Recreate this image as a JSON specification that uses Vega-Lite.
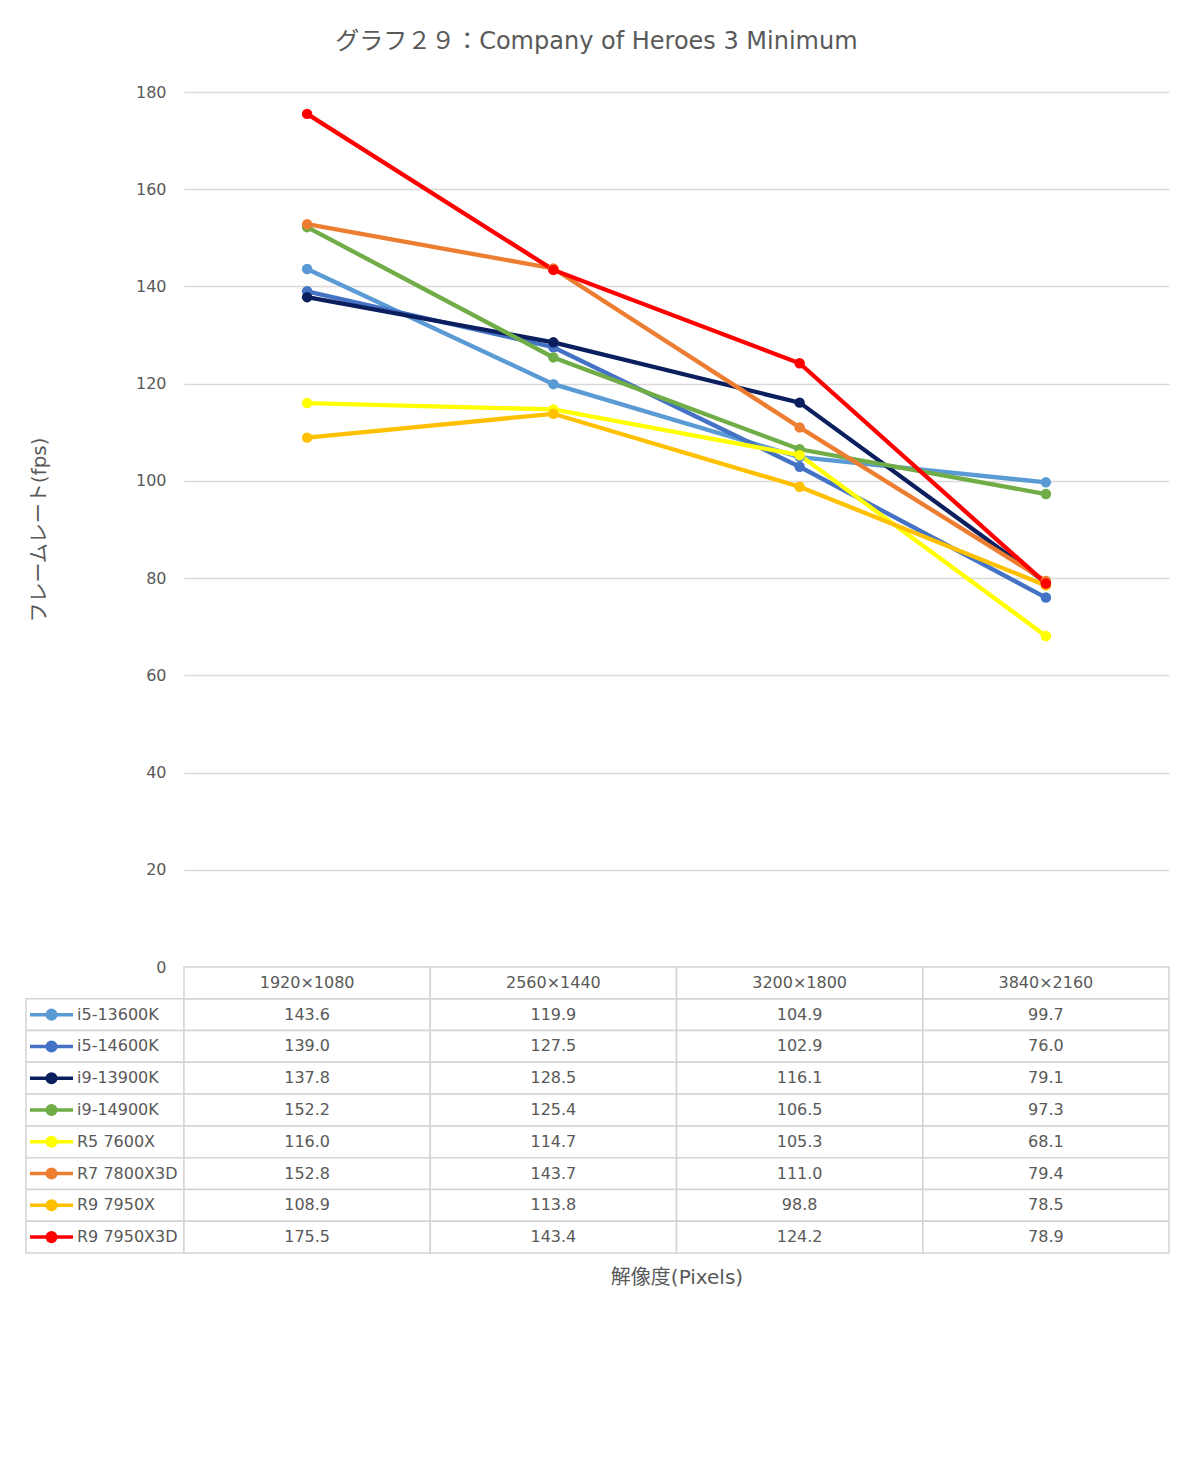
{
  "$schema": "https://vega.github.io/schema/vega-lite/v6.json",
  "background": "white",
  "padding": {"left": 23, "top": 30, "right": 30, "bottom": 20},
  "title": {"text": "グラフ２９：Company of Heroes 3 Minimum", "fontSize": 24, "fontWeight": "normal", "color": "#595959", "anchor": "middle", "offset": 30},
  "config": {"font": "DejaVu Sans, Noto Sans CJK JP", "view": {"stroke": null}},
  "datasets": {
    "fps": [
      {"series": "i5-13600K", "res": "1920×1080", "fps": 143.6},
      {"series": "i5-13600K", "res": "2560×1440", "fps": 119.9},
      {"series": "i5-13600K", "res": "3200×1800", "fps": 104.9},
      {"series": "i5-13600K", "res": "3840×2160", "fps": 99.7},
      {"series": "i5-14600K", "res": "1920×1080", "fps": 139.0},
      {"series": "i5-14600K", "res": "2560×1440", "fps": 127.5},
      {"series": "i5-14600K", "res": "3200×1800", "fps": 102.9},
      {"series": "i5-14600K", "res": "3840×2160", "fps": 76.0},
      {"series": "i9-13900K", "res": "1920×1080", "fps": 137.8},
      {"series": "i9-13900K", "res": "2560×1440", "fps": 128.5},
      {"series": "i9-13900K", "res": "3200×1800", "fps": 116.1},
      {"series": "i9-13900K", "res": "3840×2160", "fps": 79.1},
      {"series": "i9-14900K", "res": "1920×1080", "fps": 152.2},
      {"series": "i9-14900K", "res": "2560×1440", "fps": 125.4},
      {"series": "i9-14900K", "res": "3200×1800", "fps": 106.5},
      {"series": "i9-14900K", "res": "3840×2160", "fps": 97.3},
      {"series": "R5 7600X", "res": "1920×1080", "fps": 116.0},
      {"series": "R5 7600X", "res": "2560×1440", "fps": 114.7},
      {"series": "R5 7600X", "res": "3200×1800", "fps": 105.3},
      {"series": "R5 7600X", "res": "3840×2160", "fps": 68.1},
      {"series": "R7 7800X3D", "res": "1920×1080", "fps": 152.8},
      {"series": "R7 7800X3D", "res": "2560×1440", "fps": 143.7},
      {"series": "R7 7800X3D", "res": "3200×1800", "fps": 111.0},
      {"series": "R7 7800X3D", "res": "3840×2160", "fps": 79.4},
      {"series": "R9 7950X", "res": "1920×1080", "fps": 108.9},
      {"series": "R9 7950X", "res": "2560×1440", "fps": 113.8},
      {"series": "R9 7950X", "res": "3200×1800", "fps": 98.8},
      {"series": "R9 7950X", "res": "3840×2160", "fps": 78.5},
      {"series": "R9 7950X3D", "res": "1920×1080", "fps": 175.5},
      {"series": "R9 7950X3D", "res": "2560×1440", "fps": 143.4},
      {"series": "R9 7950X3D", "res": "3200×1800", "fps": 124.2},
      {"series": "R9 7950X3D", "res": "3840×2160", "fps": 78.9}
    ],
    "resolutions": [
      {"res": "1920×1080"}, {"res": "2560×1440"}, {"res": "3200×1800"}, {"res": "3840×2160"}
    ],
    "cpus": [
      {"series": "i5-13600K"}, {"series": "i5-14600K"}, {"series": "i9-13900K"}, {"series": "i9-14900K"},
      {"series": "R5 7600X"}, {"series": "R7 7800X3D"}, {"series": "R9 7950X"}, {"series": "R9 7950X3D"}
    ]
  },
  "columns": 2,
  "spacing": 0,
  "bounds": "flush",
  "resolve": {"scale": {"x": "independent", "y": "independent"}},
  "concat": [
    {
      "width": 158,
      "height": 875,
      "data": {"values": [{}]},
      "mark": {"type": "text", "text": ""},
      "encoding": {}
    },
    {
      "width": 985,
      "height": 875,
      "data": {"name": "fps"},
      "mark": {"type": "line", "strokeWidth": 4.3, "point": {"filled": true, "size": 110}},
      "encoding": {
        "x": {"field": "res", "type": "ordinal", "sort": null, "scale": {"type": "point", "padding": 0.5}, "axis": null},
        "y": {"field": "fps", "type": "quantitative", "scale": {"domain": [0, 180], "nice": false, "zero": true},
          "axis": {"values": [0, 20, 40, 60, 80, 100, 120, 140, 160, 180], "grid": true, "gridColor": "#d9d9d9", "gridWidth": 1.3, "domain": false, "ticks": false,
            "labelPadding": 18, "labelFontSize": 16, "labelColor": "#595959",
            "title": "フレームレート(fps)", "titleFontSize": 20, "titleFontWeight": "normal", "titleColor": "#595959", "titlePadding": 86}},
        "color": {"field": "series", "type": "nominal", "legend": null,
          "scale": {"domain": ["i5-13600K", "i5-14600K", "i9-13900K", "i9-14900K", "R5 7600X", "R7 7800X3D", "R9 7950X", "R9 7950X3D"],
            "range": ["#5b9bd5", "#4472c4", "#0b1f5e", "#70ad47", "#ffff00", "#ed7d31", "#ffc000", "#ff0000"]}}
      }
    },
    {
      "width": 158,
      "height": 286,
      "data": {"name": "cpus"},
      "encoding": {
        "y": {"field": "series", "type": "nominal", "axis": null,
          "scale": {"type": "band", "paddingInner": 0, "paddingOuter": 0, "domain": ["header", "i5-13600K", "i5-14600K", "i9-13900K", "i9-14900K", "R5 7600X", "R7 7800X3D", "R9 7950X", "R9 7950X3D"]}}
      },
      "layer": [
        {"mark": {"type": "rect", "fill": "white", "stroke": "#d4d4d4", "strokeWidth": 1.5}},
        {"mark": {"type": "point", "shape": "M-1,0H1M0.2,0A0.2,0.2,0,1,1,-0.2,0A0.2,0.2,0,1,1,0.2,0", "filled": true, "size": 1849, "strokeWidth": 3.5, "opacity": 1},
          "encoding": {
            "x": {"datum": 25.5, "type": "quantitative", "scale": {"domain": [0, 158], "nice": false, "zero": false}, "axis": null},
            "color": {"field": "series", "type": "nominal", "legend": null,
              "scale": {"domain": ["i5-13600K", "i5-14600K", "i9-13900K", "i9-14900K", "R5 7600X", "R7 7800X3D", "R9 7950X", "R9 7950X3D"],
                "range": ["#5b9bd5", "#4472c4", "#0b1f5e", "#70ad47", "#ffff00", "#ed7d31", "#ffc000", "#ff0000"]}},
            "stroke": {"field": "series", "type": "nominal", "legend": null,
              "scale": {"domain": ["i5-13600K", "i5-14600K", "i9-13900K", "i9-14900K", "R5 7600X", "R7 7800X3D", "R9 7950X", "R9 7950X3D"],
                "range": ["#5b9bd5", "#4472c4", "#0b1f5e", "#70ad47", "#ffff00", "#ed7d31", "#ffc000", "#ff0000"]}}
          }},
        {"mark": {"type": "text", "align": "left", "baseline": "middle", "fontSize": 16, "color": "#595959"},
          "encoding": {
            "x": {"datum": 51, "type": "quantitative"},
            "text": {"field": "series"}
          }}
      ]
    },
    {
      "width": 985,
      "height": 286,
      "layer": [
        {
          "data": {"name": "fps"},
          "mark": {"type": "rect", "fill": "white", "stroke": "#d4d4d4", "strokeWidth": 1.5},
          "encoding": {
            "x": {"field": "res", "type": "nominal", "sort": null, "scale": {"type": "band", "paddingInner": 0, "paddingOuter": 0},
              "axis": {"labels": false, "ticks": false, "domain": false, "grid": false, "title": "解像度(Pixels)", "titleFontSize": 20, "titleFontWeight": "normal", "titleColor": "#595959", "titlePadding": 14}},
            "y": {"field": "series", "type": "nominal", "axis": null,
              "scale": {"type": "band", "paddingInner": 0, "paddingOuter": 0, "domain": ["header", "i5-13600K", "i5-14600K", "i9-13900K", "i9-14900K", "R5 7600X", "R7 7800X3D", "R9 7950X", "R9 7950X3D"]}}
          }
        },
        {
          "data": {"name": "fps"},
          "mark": {"type": "text", "fontSize": 16, "color": "#595959", "baseline": "middle"},
          "encoding": {
            "x": {"field": "res", "type": "nominal", "sort": null},
            "y": {"field": "series", "type": "nominal"},
            "text": {"field": "fps", "type": "quantitative", "format": ".1f"}
          }
        },
        {
          "data": {"name": "resolutions"},
          "mark": {"type": "rect", "fill": "white", "stroke": "#d4d4d4", "strokeWidth": 1.5},
          "encoding": {
            "x": {"field": "res", "type": "nominal", "sort": null},
            "y": {"datum": "header", "type": "nominal"}
          }
        },
        {
          "data": {"name": "resolutions"},
          "mark": {"type": "text", "fontSize": 16, "color": "#595959", "baseline": "middle"},
          "encoding": {
            "x": {"field": "res", "type": "nominal", "sort": null},
            "y": {"datum": "header", "type": "nominal"},
            "text": {"field": "res"}
          }
        }
      ]
    }
  ]
}
